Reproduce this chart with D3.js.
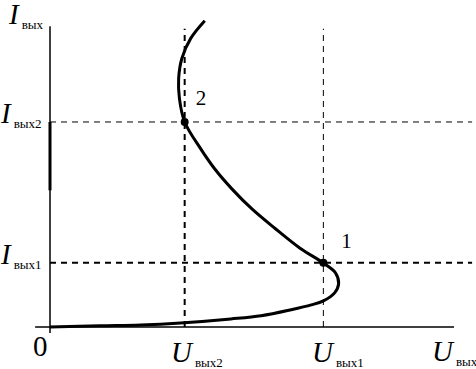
<!DOCTYPE html>
<html>
<head>
<meta charset="utf-8">
<script src="https://cdn.jsdelivr.net/npm/d3@7"></script>
<style>
body { margin: 0; background: #fff; }
text { font-family: "Liberation Serif", "Times New Roman", serif; fill: #000; }
</style>
</head>
<body>
<script>
// characteristic curve I(U)
var curveU = [0, 1.25, 2.25, 3.25, 4.5, 5.25, 6.0, 6.5, 6.8, 7.08, 7.18, 7.1, 6.82,
              6.22, 5.6, 5.03, 4.53, 4.1, 3.75, 3.35, 3.22, 3.2, 3.28, 3.5, 3.85];
var curveI = [0, 0.03, 0.05, 0.1, 0.2, 0.28, 0.43, 0.55, 0.65, 0.85, 1.08, 1.35, 1.58,
              1.96, 2.45, 2.93, 3.43, 3.93, 4.43, 5.1, 5.68, 6.18, 6.68, 7.18, 7.62];

// the two marked operating points
var pointNames = ["1", "2"];
var pointU = [6.8, 3.35];
var pointI = [1.6, 5.1];

var width = 476;
var height = 369;

var x = d3.scaleLinear().domain([0, 10]).range([50, 452]);
var y = d3.scaleLinear().domain([0, 10]).range([327, -75]);

var svg = d3.select("body")
    .append("svg")
    .attr("width", width)
    .attr("height", height);

// axes
svg.append("line")
    .attr("x1", x(-0.37)).attr("x2", x(10.05))
    .attr("y1", y(0)).attr("y2", y(0))
    .attr("stroke", "#000").attr("stroke-width", 1.5);
svg.append("line")
    .attr("x1", x(0)).attr("x2", x(0))
    .attr("y1", y(-0.15)).attr("y2", y(7.48))
    .attr("stroke", "#000").attr("stroke-width", 1.5);
svg.append("line")
    .attr("x1", x(0)).attr("x2", x(0))
    .attr("y1", y(3.4)).attr("y2", y(5.1))
    .attr("stroke", "#000").attr("stroke-width", 3);

// dashed guides
var guideW = [2, 1];
pointU.forEach(function(u, i) {
    svg.append("line")
        .attr("x1", x(u)).attr("x2", x(u))
        .attr("y1", y(0)).attr("y2", y(7.42))
        .attr("stroke", "#000").attr("stroke-width", i == 1 ? 2 : 1)
        .attr("stroke-dasharray", "6,5");
    svg.append("line")
        .attr("x1", x(0)).attr("x2", x(10.5))
        .attr("y1", y(pointI[i])).attr("y2", y(pointI[i]))
        .attr("stroke", "#000").attr("stroke-width", guideW[i])
        .attr("stroke-dasharray", "6,5");
});

// curve
var line = d3.line()
    .x(function(d, i) { return x(curveU[i]); })
    .y(function(d, i) { return y(curveI[i]); })
    .curve(d3.curveCatmullRom);

svg.append("path")
    .datum(curveU)
    .attr("d", line)
    .attr("fill", "none")
    .attr("stroke", "#000")
    .attr("stroke-width", 3);

svg.selectAll("circle.pt")
    .data(pointU)
    .enter()
    .append("circle")
    .attr("class", "pt")
    .attr("cx", function(d) { return x(d); })
    .attr("cy", function(d, i) { return y(pointI[i]); })
    .attr("r", 4);

svg.selectAll("text.pt")
    .data(pointNames)
    .enter()
    .append("text")
    .attr("class", "pt")
    .attr("x", function(d, i) { return x(pointU[i]) + (i == 0 ? 18 : 11); })
    .attr("y", function(d, i) { return y(pointI[i]) - (i == 0 ? 15 : 17); })
    .attr("font-size", 21)
    .text(function(d) { return d; });

// labels: main letter + subscript
function label(px, py, main, sub) {
    var t = svg.append("text").attr("x", px).attr("y", py);
    t.append("tspan").attr("font-size", 29).attr("font-style", "italic").text(main);
    t.append("tspan").attr("font-size", 13).attr("dy", 5).attr("dx", 3).text(sub);
}

label(9, 24, "I", "вых");
label(1, 123, "I", "вых2");
label(1, 264, "I", "вых1");
label(171, 362, "U", "вых2");
label(312, 362, "U", "вых1");
label(432, 361, "U", "вых");

svg.append("text")
    .attr("x", 33).attr("y", 356)
    .attr("font-size", 29)
    .text("0");
</script>
</body>
</html>
